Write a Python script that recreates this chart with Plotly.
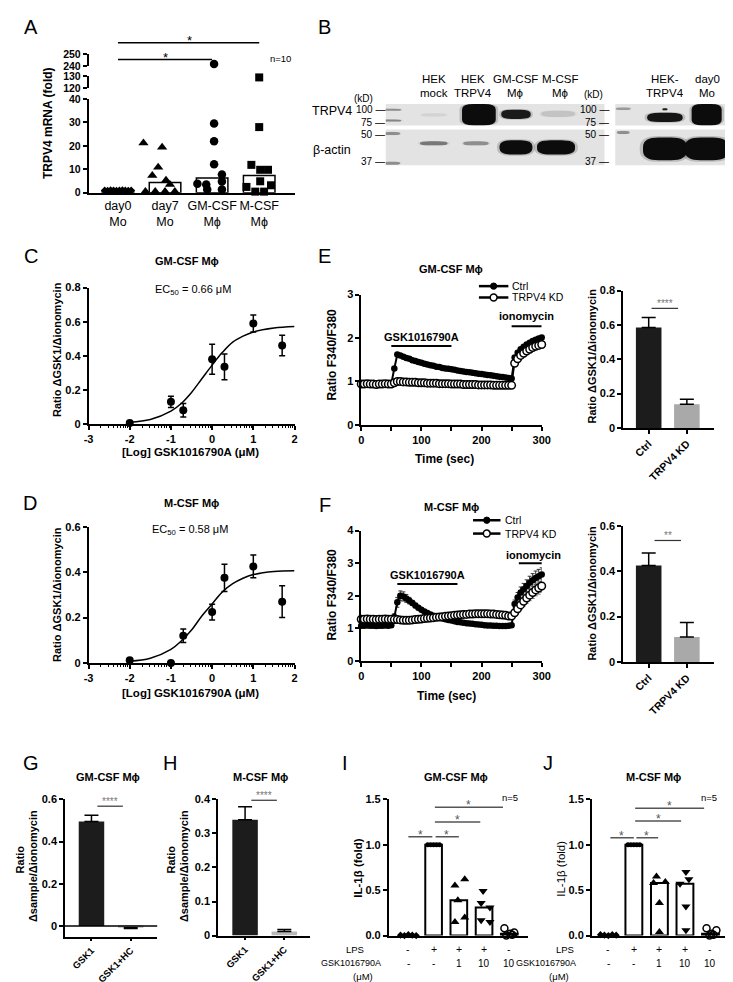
import numpy as np
import plotly.graph_objects as go

W, H = 733, 982
FONT = "Liberation Sans, Arial, sans-serif"

# ======================= DATA =======================
# --- Panel A: TRPV4 mRNA (fold), n=10 per group
A_labels = ["day0<br>Mo", "day7<br>Mo", "GM-CSF<br>Mϕ", "M-CSF<br>Mϕ"]
A_day0 = [1.0, 0.9, 1.1, 1.0, 0.9, 1.0, 1.1, 1.0, 0.9, 1.0]
A_day7 = [21.2, 19.4, 10.9, 7.4, 5.3, 3.5, 0.5, 0.5, 0.5, 0.5]
A_gm = [242, 29.5, 22.0, 12.2, 7.8, 4.8, 3.9, 3.5, 1.4, 1.4]
A_m = [129, 28.0, 11.9, 9.8, 9.8, 4.9, 3.2, 2.5, 0.5, 0.5]

# --- Panel B: western blot bands (lane index, kD centre, relative density)
B_left_line1 = ["HEK", "HEK", "GM-CSF", "M-CSF"]
B_left_line2 = ["mock", "TRPV4", "Mϕ", "Mϕ"]
B_right_line1 = ["HEK-", "day0"]
B_right_line2 = ["TRPV4", "Mo"]
B_markers_kd = [100, 75, 50, 37]
band_blot = ["L", "L", "L", "L", "L", "L", "L", "L", "L", "L", "L", "L",
             "R", "R", "R", "R", "R", "R", "R"]
band_row = ["top", "top", "top", "top", "top", "top", "bot", "bot", "bot", "bot", "bot", "bot",
            "top", "top", "top", "top", "bot", "bot", "bot"]
band_lane = [0, 0, 1, 2.07, 2.95, 3.95, 0, 0, 1, 2, 2.95, 3.9,
             0, 1, 1, 2, 0, 1, 2]
band_kd = [100, 79, 90, 90, 91, 92, 50.5, 36, 45.7, 45.7, 43.7, 43.7,
           102, 85, 101, 90, 51, 43, 43]
band_width = [0.45, 0.45, 0.6, 0.8, 0.7, 0.8, 0.4, 0.4, 0.65, 0.6, 0.78, 0.9,
              0.35, 0.85, 0.12, 0.72, 0.3, 1.05, 1.05]
band_height = [4, 4, 6, 50, 18, 12, 1.5, 1.5, 2.0, 2.0, 7.0, 7.0,
               5, 18, 4, 50, 1.5, 11, 11]
band_density = [0.35, 0.4, 0.06, 1.0, 0.92, 0.12, 0.35, 0.35, 0.45, 0.35, 1.0, 1.0,
                0.3, 0.95, 0.9, 1.0, 0.35, 1.0, 1.0]

# --- Panels C, D: dose response (mean, SEM) and fitted curve
C_logdose = [-2, -1, -0.7, 0, 0.3, 1, 1.7]
C_ratio = [0.005, 0.13, 0.08, 0.38, 0.335, 0.59, 0.46]
C_sem = [0.004, 0.033, 0.04, 0.088, 0.075, 0.05, 0.06]
D_logdose = [-2, -1, -0.7, 0, 0.3, 1, 1.7]
D_ratio = [0.012, 0.0, 0.12, 0.224, 0.375, 0.425, 0.27]
D_sem = [0.004, 0.0, 0.03, 0.035, 0.06, 0.05, 0.07]
fit_x = [-2, -1.5, -1, -0.75, -0.5, -0.25, 0, 0.25, 0.5, 0.75, 1, 1.5, 2]
C_fit_y = [0.01, 0.026, 0.075, 0.12, 0.185, 0.265, 0.345, 0.42, 0.48, 0.515, 0.54, 0.563, 0.572]
D_fit_y = [0.008, 0.021, 0.06, 0.097, 0.145, 0.207, 0.26, 0.313, 0.349, 0.373, 0.389, 0.403, 0.406]
C_ec50 = "0.66"
D_ec50 = "0.58"

# --- Panels E, F: Ca2+ traces (ratio F340/F380), every 5 s
T = list(range(0, 301, 5))
E_ctrl = [0.95, 0.95, 0.96, 0.95, 0.95, 0.94, 0.95, 0.95, 0.96, 0.95, 0.95,
          1.30, 1.62, 1.60, 1.57, 1.54, 1.52, 1.49, 1.47, 1.45, 1.43,
          1.41, 1.39, 1.37, 1.36, 1.34, 1.33, 1.31, 1.30, 1.29, 1.28,
          1.27, 1.25, 1.24, 1.23, 1.22, 1.21, 1.20, 1.19, 1.18, 1.17,
          1.16, 1.15, 1.14, 1.13, 1.12, 1.11, 1.10, 1.09, 1.08, 1.07,
          1.55, 1.66, 1.74, 1.80, 1.85, 1.89, 1.93, 1.96, 1.99, 2.01]
E_kd = [0.94, 0.94, 0.95, 0.94, 0.94, 0.93, 0.94, 0.94, 0.95, 0.94, 0.94,
        0.97, 1.00, 1.00, 0.99, 0.99, 0.98, 0.98, 0.98, 0.97, 0.97,
        0.97, 0.96, 0.96, 0.96, 0.96, 0.95, 0.95, 0.95, 0.95, 0.94,
        0.94, 0.94, 0.94, 0.93, 0.93, 0.93, 0.93, 0.93, 0.92, 0.92,
        0.92, 0.92, 0.92, 0.91, 0.91, 0.91, 0.91, 0.91, 0.91, 0.91,
        1.42, 1.52, 1.60, 1.65, 1.70, 1.74, 1.78, 1.81, 1.83, 1.85]
F_ctrl = [1.08, 1.08, 1.09, 1.08, 1.08, 1.07, 1.08, 1.08, 1.09, 1.08, 1.10,
          1.35, 1.80, 2.00, 1.98, 1.92, 1.85, 1.78, 1.70, 1.63, 1.57,
          1.52, 1.47, 1.43, 1.39, 1.36, 1.33, 1.30, 1.28, 1.26, 1.24,
          1.22, 1.20, 1.19, 1.17, 1.16, 1.15, 1.14, 1.13, 1.12, 1.11,
          1.10, 1.09, 1.09, 1.08, 1.08, 1.07, 1.07, 1.07, 1.08, 1.10,
          1.75, 1.95, 2.10, 2.20, 2.30, 2.40, 2.48, 2.55, 2.60, 2.65]
F_ctrl_err = [0.02, 0.02, 0.02, 0.02, 0.02, 0.02, 0.02, 0.02, 0.02, 0.02, 0.02,
              0.10, 0.15, 0.15, 0.14, 0.12, 0.10, 0.08, 0.07, 0.06, 0.05,
              0.05, 0.05, 0.04, 0.04, 0.04, 0.04, 0.04, 0.04, 0.04, 0.04,
              0.04, 0.04, 0.04, 0.04, 0.04, 0.04, 0.04, 0.04, 0.04, 0.04,
              0.04, 0.04, 0.04, 0.04, 0.04, 0.04, 0.04, 0.04, 0.04, 0.04,
              0.12, 0.15, 0.17, 0.18, 0.19, 0.20, 0.20, 0.21, 0.21, 0.21]
F_kd = [1.28, 1.28, 1.29, 1.28, 1.28, 1.27, 1.28, 1.28, 1.29, 1.28, 1.28,
        1.27, 1.27, 1.26, 1.25, 1.25, 1.25, 1.26, 1.27, 1.28, 1.29,
        1.30, 1.31, 1.32, 1.33, 1.34, 1.35, 1.36, 1.37, 1.38, 1.39,
        1.40, 1.41, 1.42, 1.43, 1.43, 1.44, 1.44, 1.45, 1.45, 1.45,
        1.45, 1.45, 1.44, 1.44, 1.43, 1.42, 1.41, 1.40, 1.38, 1.38,
        1.48, 1.60, 1.72, 1.83, 1.93, 2.02, 2.10, 2.18, 2.24, 2.30]
F_kd_err = [0.02, 0.02, 0.02, 0.02, 0.02, 0.02, 0.02, 0.02, 0.02, 0.02, 0.02,
            0.02, 0.02, 0.02, 0.02, 0.02, 0.02, 0.02, 0.02, 0.02, 0.02,
            0.03, 0.03, 0.03, 0.03, 0.03, 0.03, 0.03, 0.03, 0.03, 0.03,
            0.03, 0.03, 0.03, 0.03, 0.03, 0.03, 0.03, 0.03, 0.03, 0.03,
            0.03, 0.03, 0.03, 0.03, 0.03, 0.03, 0.03, 0.03, 0.03, 0.03,
            0.10, 0.12, 0.14, 0.15, 0.16, 0.17, 0.18, 0.18, 0.19, 0.19]
E_gsk_window = [50, 150]
E_iono_window = [250, 300]
F_gsk_window = [60, 160]
F_iono_window = [262, 311]

# --- E/F bar summaries
KD_groups = ["Ctrl", "TRPV4 KD"]
E_bar = [0.585, 0.138]
E_bar_sem = [0.058, 0.029]
F_bar = [0.425, 0.11]
F_bar_sem = [0.055, 0.064]

# --- G/H
GH_groups = ["GSK1", "GSK1+HC"]
G_vals = [0.495, -0.008]
G_sem = [0.03, 0.004]
H_vals = [0.34, 0.012]
H_sem = [0.038, 0.006]

# --- I/J: IL-1beta (fold), n=5
IJ_LPS = ["-", "+", "+", "+", "-"]
IJ_GSK = ["-", "-", "1", "10", "10"]
I_pts = [[0.005, 0.0, 0.01, 0.005, 0.0],
         [1.0, 1.0, 1.0, 1.0, 1.0],
         [0.62, 0.55, 0.39, 0.20, 0.15],
         [0.49, 0.36, 0.31, 0.17, 0.15],
         [0.08, 0.035, 0.02, 0.0, 0.01]]
J_pts = [[0.01, 0.005, 0.0, 0.01, 0.005],
         [1.0, 1.0, 1.0, 1.0, 1.0],
         [0.65, 0.59, 0.58, 0.36, 0.04],
         [0.70, 0.62, 0.57, 0.32, 0.06],
         [0.08, 0.06, 0.02, 0.0, 0.01]]

# ======================= STYLE / LAYOUT HELPERS =======================
def px_x(a, b):
    return [a / W, b / W]


def px_y(top, bottom):
    return [1 - bottom / H, 1 - top / H]


TICKF = dict(family=FONT, size=11, color="black", weight="bold")


def ax(domain, rng, anchor, **kw):
    d = dict(domain=domain, range=rng, anchor=anchor, showgrid=False, zeroline=False,
             showline=True, linecolor="black", linewidth=1.5, ticks="outside", ticklen=4,
             tickwidth=1.5, tickcolor="black", tickfont=TICKF, fixedrange=True)
    d.update(kw)
    return d


ANN = []
SH = []


def txt(s, x, y, size=11, bold=False, angle=0, color="black", xanchor="center",
        yanchor="middle", xref=None):
    a = dict(text=s, showarrow=False, textangle=angle, xanchor=xanchor, yanchor=yanchor,
             font=dict(family=FONT, size=size, color=color, weight="bold" if bold else "normal"))
    if xref:
        a.update(xref=xref, x=x)
    else:
        a.update(xref="paper", x=x / W)
    a.update(yref="paper", y=1 - y / H)
    ANN.append(a)


def hline(x0, x1, y, color="black", width=1.5, xref=None):
    if xref:
        SH.append(dict(type="line", xref=xref, x0=x0, x1=x1, yref="paper", y0=1 - y / H,
                       y1=1 - y / H, line=dict(color=color, width=width)))
    else:
        SH.append(dict(type="line", xref="paper", x0=x0 / W, x1=x1 / W, yref="paper",
                       y0=1 - y / H, y1=1 - y / H, line=dict(color=color, width=width)))


def rrect(x0, x1, y0, y1, fx, fy):
    rx = (x1 - x0) * fx
    ry = (y1 - y0) * fy
    return (f"M{x0 + rx},{y0} L{x1 - rx},{y0} Q{x1},{y0} {x1},{y0 + ry} L{x1},{y1 - ry} "
            f"Q{x1},{y1} {x1 - rx},{y1} L{x0 + rx},{y1} Q{x0},{y1} {x0},{y1 - ry} "
            f"L{x0},{y0 + ry} Q{x0},{y0} {x0 + rx},{y0} Z")


fig = go.Figure()
lay = dict(width=W, height=H, margin=dict(l=0, r=0, t=0, b=0), paper_bgcolor="white",
           plot_bgcolor="white", showlegend=False, font=dict(family=FONT, color="black"))

# ---------- Panel A ----------
lay["xaxis"] = ax(px_x(77, 287), [-0.625, 3.75], "y", tickvals=[0, 1, 2, 3], ticktext=A_labels,
                  ticks="", tickangle=0, tickfont=dict(family=FONT, size=12.5, color="black"))
AY = dict(family=FONT, size=10.5, color="black", weight="bold")
lay["yaxis"] = ax(px_y(86, 181), [0, 40], "x", tickvals=[0, 10, 20, 30, 40], tickfont=AY)
lay["yaxis2"] = ax(px_y(63, 75), [120, 130], "x", tickvals=[120, 130], tickfont=AY)
lay["yaxis3"] = ax(px_y(41, 53), [240, 250], "x", tickvals=[240, 250], tickfont=AY)

A_sets = [A_day0, A_day7, A_gm, A_m]
A_off_px = [[-13.5, -10.5, -7.5, -4.5, -1.5, 1.5, 4.5, 7.5, 10.5, 13.5],
            [-22, -3, -7, -13, 1, 5, -20, -10, 0, 10],
            [2, 2, 2, 2, 10, 10, -15, -6, -5, 10],
            [0, 0, -8, 1, 9, 1, 12, -13, -4, 5]]
A_sym = ["diamond", "triangle-up", "circle", "square"]
A_size = [6, 9, 8.5, 8]
fig.add_bar(x=[0, 1, 2, 3], y=[float(np.median(s)) for s in A_sets], width=0.67,
            marker=dict(color="white", line=dict(color="black", width=1.5)),
            xaxis="x", yaxis="y", hoverinfo="skip")
for i, (vals, offs) in enumerate(zip(A_sets, A_off_px)):
    for yname, lo, hi in [("y", 0, 40), ("y2", 120, 130), ("y3", 240, 250)]:
        xs = [i + o / 48 for v, o in zip(vals, offs) if lo <= v <= hi]
        ys = [v for v in vals if lo <= v <= hi]
        if xs:
            fig.add_scatter(x=xs, y=ys, mode="markers", xaxis="x", yaxis=yname, cliponaxis=False,
                            marker=dict(symbol=A_sym[i], size=A_size[i], color="black"),
                            hoverinfo="skip")
txt("TRPV4 mRNA (fold)", 35, 110, size=12, bold=True, angle=-90)
hline(0, 3, 29, xref="x")
txt("*", 180, 27, size=13)
hline(0, 2, 46, xref="x")
txt("*", 155, 44, size=13)
txt("n=10", 273, 45, size=9.5)

# ---------- Panel B (blots) ----------
lay["xaxis2"] = dict(domain=px_x(380, 603), range=[-0.14, 5.05], anchor="y5", visible=False, fixedrange=True)
lay["yaxis4"] = dict(domain=px_y(91, 113), range=[69, 111.5], anchor="x2", visible=False, fixedrange=True)
lay["yaxis5"] = dict(domain=px_y(117, 153), range=[35.07, 52.4], anchor="x2", visible=False, fixedrange=True)
lay["xaxis3"] = dict(domain=px_x(614, 728), range=[-0.19, 2.49], anchor="y7", visible=False, fixedrange=True)
lay["yaxis6"] = dict(domain=px_y(91, 113), range=[69, 111.5], anchor="x3", visible=False, fixedrange=True)
lay["yaxis7"] = dict(domain=px_y(117, 153), range=[35.07, 52.4], anchor="x3", visible=False, fixedrange=True)
blot_axes = {("L", "top"): ("x2", "y4"), ("L", "bot"): ("x2", "y5"),
             ("R", "top"): ("x3", "y6"), ("R", "bot"): ("x3", "y7")}
row_range = {"top": (69.3, 111.2), "bot": (35.2, 52.2)}
for (xa, ya) in blot_axes.values():
    fig.add_scatter(x=[None], y=[None], xaxis=xa, yaxis=ya, hoverinfo="skip")
    SH.append(dict(type="rect", xref=xa + " domain", yref=ya + " domain", x0=0, x1=1, y0=0, y1=1,
                   fillcolor="#e3e3e3", line=dict(width=0), layer="below"))
for b, r, ln, kd, w, h, dens in zip(band_blot, band_row, band_lane, band_kd, band_width,
                                    band_height, band_density):
    xa, ya = blot_axes[(b, r)]
    lo, hi = row_range[r]
    for scale, alpha, fy in [(1.15, 0.18 * dens, 0.45), (1.0, dens, 0.42)]:
        y0 = max(kd - h * scale / 2, lo)
        y1 = min(kd + h * scale / 2, hi)
        big = h > 30
        SH.append(dict(type="path", xref=xa, yref=ya,
                       path=rrect(ln - w * scale / 2, ln + w * scale / 2, y0, y1,
                                  0.35 if big else 0.36, 0.25 if big else fy),
                       fillcolor=f"rgba(12,12,12,{alpha:.3f})", line=dict(width=0)))
# lane labels (text positions in page pixels)
for l1, l2, xp in zip(B_left_line1 + B_right_line1, B_left_line2 + B_right_line2,
                      [429, 469, 512, 558, 665, 708]):
    txt(l1, xp, 66, size=11.5)
    txt(l2, xp, 80, size=11.5)
for kd in B_markers_kd:
    yax = "y4" if kd >= 69 else "y5"
    for xr in (381, 610):
        ANN.append(dict(text=f"{kd} —", showarrow=False, xref="paper", x=xr / W, xanchor="right",
                        yref=yax, y=kd, yanchor="middle",
                        font=dict(family=FONT, size=10, color="black")))
txt("(kD)", 357, 86, size=10)
txt("(kD)", 592, 81, size=10)
txt("TRPV4", 325, 98, size=12.5)
txt("β-actin", 325, 138, size=12.5)

# ---------- Panels C, D ----------
minor_log = [d + np.log10(k) for d in range(-3, 2) for k in range(2, 10)]
for xa, ya, ytop, ybot, yr, ydt in [("xaxis4", "yaxis8", 277, 415, 0.8, [0, 0.2, 0.4, 0.6, 0.8]),
                                     ("xaxis5", "yaxis9", 519, 657, 0.6, [0, 0.2, 0.4, 0.6])]:
    xid, yid = "x" + xa[5:], "y" + ya[5:]
    lay[xa] = ax(px_x(77, 287), [-3, 2], yid, tickvals=[-3, -2, -1, 0, 1, 2],
                 ticktext=["-3", "-2", "-1", "0", "1", "2"],
                 minor=dict(tickvals=minor_log, ticklen=2.5, tickwidth=1, ticks="outside",
                            tickcolor="black"))
    lay[ya] = ax(px_y(ytop, ybot), [0, yr], xid, tickvals=ydt, ticktext=[f"{v:g}" for v in ydt])
for xid, yid, dx, dy, de, fy in [("x4", "y8", C_logdose, C_ratio, C_sem, C_fit_y),
                                 ("x5", "y9", D_logdose, D_ratio, D_sem, D_fit_y)]:
    fig.add_scatter(x=fit_x, y=fy, mode="lines", line=dict(color="black", width=1.5, shape="spline"),
                    xaxis=xid, yaxis=yid, hoverinfo="skip")
    fig.add_scatter(x=dx, y=dy, mode="markers", marker=dict(color="black", size=8),
                    error_y=dict(type="data", array=de, color="black", thickness=1.5, width=3),
                    xaxis=xid, yaxis=yid, cliponaxis=False, hoverinfo="skip")
txt("GM-CSF Mϕ", 177, 250, size=11, bold=True)
txt("EC<sub>50</sub> = " + C_ec50 + " μM", 183, 279, size=11)
txt("Ratio ΔGSK1/Δionomycin", 45, 340, size=11, bold=True, angle=-90)
txt("[Log] GSK1016790A (μM)", 181, 443, size=11.5, bold=True)
txt("M-CSF Mϕ", 182, 495, size=11, bold=True)
txt("EC<sub>50</sub> = " + D_ec50 + " μM", 180, 522, size=11)
txt("Ratio ΔGSK1/Δionomycin", 45, 588, size=11, bold=True, angle=-90)
txt("[Log] GSK1016790A (μM)", 181, 687, size=11.5, bold=True)

# ---------- Panels E, F traces ----------
for xa, ya, ytop, ybot, ymax in [("xaxis6", "yaxis10", 284, 416, 3), ("xaxis7", "yaxis11", 523, 655, 4)]:
    xid, yid = "x" + xa[5:], "y" + ya[5:]
    lay[xa] = ax(px_x(355, 539), [0, 300], yid, tickvals=[0, 100, 200, 300],
                 minor=dict(tickvals=[50, 150, 250], ticklen=4, tickwidth=1.5, ticks="outside",
                            tickcolor="black"))
    lay[ya] = ax(px_y(ytop, ybot), [0, ymax], xid, tickvals=list(range(0, ymax + 1)))
for xid, yid, ctrl, kd, cerr, kerr in [("x6", "y10", E_ctrl, E_kd, None, None),
                                       ("x7", "y11", F_ctrl, F_kd, F_ctrl_err, F_kd_err)]:
    assert len(ctrl) == len(T) and len(kd) == len(T)
    fig.add_scatter(x=T, y=ctrl, mode="lines+markers", xaxis=xid, yaxis=yid, cliponaxis=False,
                    line=dict(color="black", width=2), marker=dict(color="black", size=6.5),
                    error_y=(dict(type="data", array=cerr, color="#333", thickness=1, width=2)
                             if cerr else None), hoverinfo="skip")
    fig.add_scatter(x=T, y=kd, mode="lines+markers", xaxis=xid, yaxis=yid, cliponaxis=False,
                    line=dict(color="black", width=1.5),
                    marker=dict(color="white", size=7.5, line=dict(color="black", width=1.5)),
                    error_y=(dict(type="data", array=kerr, color="#777", thickness=1, width=2)
                             if kerr else None), hoverinfo="skip")
hline(E_gsk_window[0], E_gsk_window[1], 336, width=2, xref="x6")
txt("GSK1016790A", sum(E_gsk_window) / 2, 327, size=11, bold=True, xref="x6")
hline(E_iono_window[0], E_iono_window[1], 316, width=2, xref="x6")
txt("ionomycin", sum(E_iono_window) / 2, 306, size=11, bold=True, xref="x6")
hline(F_gsk_window[0], F_gsk_window[1], 577, width=2, xref="x7")
txt("GSK1016790A", sum(F_gsk_window) / 2, 568, size=11, bold=True, xref="x7")
hline(F_iono_window[0], F_iono_window[1], 556, width=2, xref="x7")
txt("ionomycin", sum(F_iono_window) / 2, 548, size=11, bold=True, xref="x7")
txt("GM-CSF Mϕ", 447, 258, size=11, bold=True)
txt("M-CSF Mϕ", 447, 499, size=11, bold=True)
txt("Ratio F340/F380", 325, 345, size=12, bold=True, angle=-90)
txt("Ratio F340/F380", 325, 588, size=12, bold=True, angle=-90)
txt("Time (sec)", 440, 450, size=12, bold=True)
txt("Time (sec)", 442, 690, size=12, bold=True)
for lx0, lx1, cy1, cy2, tx in [(475, 505, 275.5, 287, 507), (469, 497, 512.5, 526, 500)]:
    hline(lx0, lx1, cy1, width=2.5)
    hline(lx0, lx1, cy2, width=2.5)
    mx = (lx0 + lx1) / 2
    SH.append(dict(type="circle", xref="paper", yref="paper", x0=(mx - 3.2) / W, x1=(mx + 3.2) / W,
                   y0=1 - (cy1 + 3.2) / H, y1=1 - (cy1 - 3.2) / H, fillcolor="black",
                   line=dict(color="black", width=1)))
    SH.append(dict(type="circle", xref="paper", yref="paper", x0=(mx - 3.5) / W, x1=(mx + 3.5) / W,
                   y0=1 - (cy2 + 3.5) / H, y1=1 - (cy2 - 3.5) / H, fillcolor="white",
                   line=dict(color="black", width=1.5)))
    txt("Ctrl", tx, cy1, size=10.5, xanchor="left")
    txt("TRPV4 KD", tx, cy2, size=10.5, xanchor="left")

# ---------- E/F bar charts ----------
for xa, ya, ytop, ybot, ymax, vals, sem in [("xaxis8", "yaxis12", 280, 419, 0.8, E_bar, E_bar_sem),
                                            ("xaxis9", "yaxis13", 518, 656, 0.6, F_bar, F_bar_sem)]:
    xid, yid = "x" + xa[5:], "y" + ya[5:]
    tv = [0, 0.2, 0.4, 0.6, 0.8] if ymax > 0.7 else [0, 0.2, 0.4, 0.6]
    lay[xa] = ax(px_x(622, 715), [-0.67, 1.72], yid, tickvals=[0, 1], ticktext=KD_groups,
                 tickangle=-45, tickfont=dict(family=FONT, size=10.5, color="black", weight="bold"))
    lay[ya] = ax(px_y(ytop, ybot), [0, ymax], xid, tickvals=tv, ticktext=[f"{v:g}" for v in tv])
    fig.add_bar(x=[0, 1], y=vals, width=0.67, marker=dict(color=["#1c1c1c", "#a9a9a9"], line=dict(width=0)),
                error_y=dict(type="data", array=sem, arrayminus=[0, 0], symmetric=False,
                             color="black", thickness=1.5, width=7),
                xaxis=xid, yaxis=yid, hoverinfo="skip")
txt("Ratio ΔGSK1/Δionomycin", 590, 346, size=11, bold=True, angle=-90)
txt("Ratio ΔGSK1/Δionomycin", 590, 586, size=11, bold=True, angle=-90)
hline(651, 678, 298, color="#333", width=1.2)
txt("****", 664.5, 293, size=10, color="#777")
hline(654, 681, 533, color="#333", width=1.2)
txt("**", 667.5, 528, size=10, color="#777")

# ---------- G, H ----------
for xa, ya, xl, xr, rng, ybot, tv, vals, sem, ax_rng in [
        ("xaxis10", "yaxis14", 53, 147, [-0.05, 0.6], 934, [0, 0.2, 0.4, 0.6], G_vals, G_sem, [-0.675, 1.675]),
        ("xaxis11", "yaxis15", 209, 303, [0, 0.4], 933, [0, 0.1, 0.2, 0.3, 0.4], H_vals, H_sem, [-0.69, 1.66])]:
    xid, yid = "x" + xa[5:], "y" + ya[5:]
    lay[xa] = ax(px_x(xl, xr), ax_rng, yid, tickvals=[0, 1], ticktext=GH_groups, tickangle=-45,
                 ticklen=3, tickfont=dict(family=FONT, size=9.5, color="black", weight="bold"))
    lay[ya] = ax(px_y(795, ybot), rng, xid, tickvals=tv, ticktext=[f"{v:g}" for v in tv])
    plus = [s if v >= 0 else 0 for v, s in zip(vals, sem)]
    minus = [s if v < 0 else 0 for v, s in zip(vals, sem)]
    fig.add_bar(x=[0, 1], y=vals, width=0.65, marker=dict(color=["#1c1c1c", "#b8b8b8"], line=dict(width=0)),
                error_y=dict(type="data", array=plus, arrayminus=minus, symmetric=False,
                             color="black", thickness=1.5, width=7),
                xaxis=xid, yaxis=yid, hoverinfo="skip")
SH.append(dict(type="line", xref="x10 domain", x0=0, x1=1, yref="y14", y0=0, y1=0,
               line=dict(color="black", width=1.5)))
txt("GM-CSF Mϕ", 97, 772, size=11, bold=True)
txt("M-CSF Mϕ", 252, 772, size=11, bold=True)
txt("Ratio", 7, 856, size=11, bold=True, angle=-90)
txt("Δsample/Δionomycin", 21, 863, size=11, bold=True, angle=-90)
txt("Ratio", 161, 856, size=11, bold=True, angle=-90)
txt("Δsample/Δionomycin", 175, 863, size=11, bold=True, angle=-90)
hline(86, 112, 802, color="#333", width=1.2)
txt("****", 99, 797, size=10, color="#777")
hline(243, 269, 796, color="#333", width=1.2)
txt("****", 256, 791, size=10, color="#777")

# ---------- I, J ----------
IJ_sym = ["diamond", "circle", "triangle-up", "triangle-down", "circle-open"]
IJ_size = [5.5, 5, 8, 8, 7]
I_off = [[-8, -4, 0, 4, 8], [-6, -3, 0, 3, 6], [6, -4, -1, 6, -4], [-1, -3, 6, -3, 6], [-5, 5, 1, -3, 3]]
J_off = [[-8, -4, 0, 4, 8], [-6, -3, 0, 3, 6], [-3, 6, -6, 0, 0], [1, 4, -5, 1, 1], [-4, 6, 1, -1, 3]]
for xa, ya, xl, xr, rng, pts, offs, spacing in [
        ("xaxis12", "yaxis16", 383, 525, [-0.78, 4.74], I_pts, I_off, 25.75),
        ("xaxis13", "yaxis17", 590, 728, [-0.65, 4.65], J_pts, J_off, 26.0)]:
    xid, yid = "x" + xa[5:], "y" + ya[5:]
    lay[xa] = ax(px_x(xl, xr), rng, yid, ticks="", showticklabels=False)
    lay[ya] = ax(px_y(795, 933), [0, 1.5], xid, tickvals=[0, 0.5, 1, 1.5],
                 ticktext=["0.0", "0.5", "1.0", "1.5"])
    fig.add_bar(x=list(range(5)), y=[float(np.median(p)) for p in pts], width=0.66,
                marker=dict(color="white", line=dict(color="black", width=2)),
                xaxis=xid, yaxis=yid, hoverinfo="skip")
    for i, (p, o) in enumerate(zip(pts, offs)):
        mk = dict(symbol=IJ_sym[i], size=IJ_size[i], color="black")
        if IJ_sym[i] == "circle-open":
            mk["line"] = dict(color="black", width=1.5)
        fig.add_scatter(x=[i + d / spacing for d in o], y=p, mode="markers", marker=mk,
                        xaxis=xid, yaxis=yid, cliponaxis=False, hoverinfo="skip")
    for i, (a, b) in enumerate(zip(IJ_LPS, IJ_GSK)):
        txt(a, i, 947, size=10.5, xref=xid)
        txt(b, i, 961, size=10, xref=xid)
SIGC = "#555"
hline(0, 0.95, 833, color=SIGC, xref="x12")
txt("*", 0.5, 831, size=12, color=SIGC, xref="x12")
hline(1.08, 2.0, 833, color=SIGC, xref="x12")
txt("*", 1.5, 831, size=12, color=SIGC, xref="x12")
hline(1.05, 2.85, 818, color=SIGC, xref="x12")
txt("*", 1.95, 816, size=12, color=SIGC, xref="x12")
hline(1.05, 3.75, 803, color=SIGC, xref="x12")
txt("*", 2.4, 801, size=12, color=SIGC, xref="x12")
txt("n=5", 507, 793, size=9.5)
hline(0.08, 1.0, 834, color=SIGC, xref="x13")
txt("*", 0.5, 832, size=12, color=SIGC, xref="x13")
hline(1.1, 1.95, 834, color=SIGC, xref="x13")
txt("*", 1.5, 832, size=12, color=SIGC, xref="x13")
hline(1.05, 2.85, 817, color=SIGC, xref="x13")
txt("*", 1.95, 815, size=12, color=SIGC, xref="x13")
hline(1.05, 3.75, 804, color=SIGC, xref="x13")
txt("*", 2.4, 802, size=12, color=SIGC, xref="x13")
txt("n=5", 710, 793, size=9.5)
txt("GM-CSF Mϕ", 452, 772, size=11, bold=True)
txt("M-CSF Mϕ", 653, 772, size=11, bold=True)
txt("IL-1β (fold)", 352, 864, size=11.5, bold=True, angle=-90)
txt("IL-1β (fold)", 559, 865, size=11.5, angle=-90)
txt("LPS", 360, 947, size=9.5, xanchor="right")
txt("GSK1016790A", 377, 961, size=9, xanchor="right")
txt("(μM)", 357, 974, size=9.5)
txt("LPS", 574, 947, size=9.5, xanchor="right")
txt("GSK1016790A", 576, 961, size=9, xanchor="right")
txt("(μM)", 557, 974, size=9.5)

# ---------- panel letters ----------
for letter, x, y in [("A", 18, 13), ("B", 318, 13), ("C", 18, 245), ("D", 17, 495), ("E", 318, 245),
                     ("F", 318, 497), ("G", 18, 758), ("H", 160, 758), ("I", 338, 758), ("J", 545, 758)]:
    txt(letter, x, y, size=20)

lay["annotations"] = ANN
lay["shapes"] = SH
fig.update_layout(**lay)
fig.write_html("out.html")
